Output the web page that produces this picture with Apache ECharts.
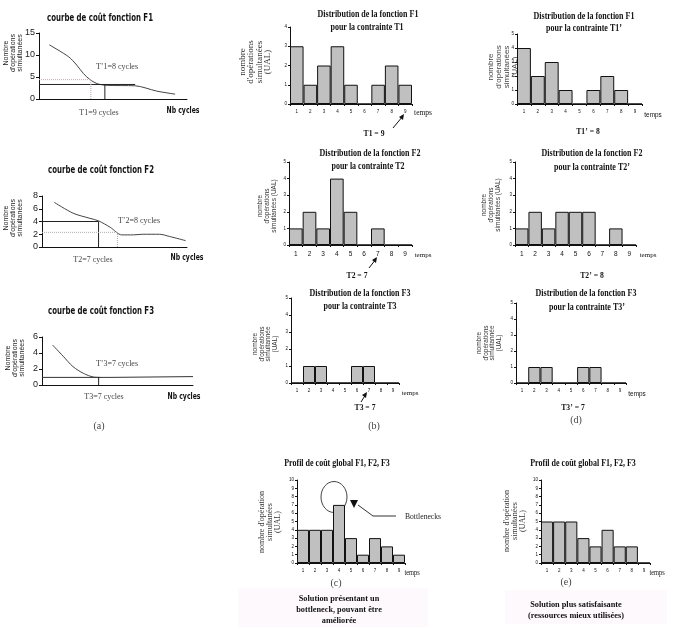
<!DOCTYPE html>
<html>
<head>
<meta charset="utf-8">
<script src="https://cdn.jsdelivr.net/npm/echarts@6/dist/echarts.min.js"></script>
<style>
  html, body { margin: 0; padding: 0; background: #fff; }
  #main { width: 678px; height: 627px; }
</style>
</head>
<body>
<div id="main"></div>
<script>
// courbes de coût (x en unités arbitraires 0..20, y = nombre d'opérations)
const coutF1 = [[1.4, 12.3], [4.0, 9.6], [5.1, 7.7], [6.0, 5.8], [6.9, 4.4], [8.0, 3.4], [9.2, 3.1], [13.0, 3.0], [15.9, 1.8], [18.4, 1.1]];
const coutF2 = [[1.7, 7.0], [4.3, 5.3], [6.6, 4.5], [7.8, 4.1], [9.4, 3.1], [11.0, 1.9], [12.6, 1.9], [13.9, 2.0], [16.2, 2.0], [17.6, 1.65], [19.8, 1.0]];
const coutF3 = [[1.4, 5.0], [2.8, 3.6], [4.1, 2.3], [5.5, 1.45], [6.8, 1.0], [7.7, 0.95]];

// repères T / T'
const f1TraitH = [[0, 3.3], [13, 3.3]];
const f1TraitV = [[8.9, 0], [8.9, 3.3]];
const f1PointH = [[0, 4.4], [7.0, 4.4]];
const f1PointV = [[7.0, 0], [7.0, 4.4]];
const f2TraitH = [[0, 4.0], [7.8, 4.0]];
const f2TraitV = [[7.8, 0], [7.8, 4.0]];
const f2PointH = [[0, 2.3], [10.4, 2.3]];
const f2PointV = [[10.4, 0], [10.4, 2.3]];
const f3TraitH = [[0, 0.95], [9.0, 0.95], [9.05, 1.05], [20, 1.05]];
const f3TraitV = [[7.5, 0], [7.5, 1.0]];

// distributions
const temps = ['1', '2', '3', '4', '5', '6', '7', '8', '9'];
const f1T1 = [3, 1, 2, 3, 1, 0, 1, 2, 1];
const f1T1p = [4, 2, 3, 1, 0, 1, 2, 1, 0];
const f2T2 = [1, 2, 1, 4, 2, 0, 1, 0, 0];
const f2T2p = [1, 2, 1, 2, 2, 2, 0, 1, 0];
const f3T3 = [0, 1, 1, 0, 0, 1, 1, 0, 0];
const f3T3p = [0, 1, 1, 0, 0, 1, 1, 0, 0];
const globalC = [4, 4, 4, 7, 3, 1, 3, 2, 1];
const globalE = [5, 5, 5, 3, 2, 4, 2, 2, 0];

const SANS = 'Liberation Sans, Arial, sans-serif';
const NARROW = 'Liberation Sans Narrow, DejaVu Sans Condensed, sans-serif';
const SERIF = 'Liberation Serif, Times New Roman, serif';

const chart = echarts.init(document.getElementById('main'));

// grilles : courbes (a) puis histogrammes
const grids = [
  { left: 39, top: 33, width: 148, height: 66 },
  { left: 42, top: 196, width: 145, height: 51 },
  { left: 42, top: 337, width: 151, height: 48 },
  { left: 290, top: 27, width: 122, height: 77 },
  { left: 517, top: 34, width: 125, height: 70 },
  { left: 289, top: 162, width: 123, height: 83 },
  { left: 515, top: 162, width: 121, height: 83 },
  { left: 291, top: 298, width: 108, height: 85 },
  { left: 516, top: 303, width: 110, height: 80 },
  { left: 297, top: 480, width: 108, height: 83 },
  { left: 541, top: 480, width: 109, height: 83 }
];

const xAxes = [];
const yAxes = [];
const series = [];

const lineMax = [15, 8, 6];
const lineStep = [5, 2, 2];
for (let i = 0; i < 3; i++) {
  xAxes.push({
    gridIndex: i, type: 'value', min: 0, max: 20,
    axisLine: { show: true, lineStyle: { color: '#111', width: 1 } },
    axisTick: { show: false }, axisLabel: { show: false }, splitLine: { show: false }
  });
  yAxes.push({
    gridIndex: i, type: 'value', min: 0, max: lineMax[i], interval: lineStep[i],
    axisLine: { show: true, lineStyle: { color: '#111', width: 1 } },
    axisTick: { show: true, length: 3, lineStyle: { color: '#111' } },
    axisLabel: { fontSize: 9, color: '#222', margin: 4, fontFamily: SANS },
    splitLine: { show: false }
  });
}

const barSets = [f1T1, f1T1p, f2T2, f2T2p, f3T3, f3T3p, globalC, globalE];
const barMax = [4, 5, 5, 5, 5, 5, 10, 10];
barSets.forEach(function (vals, k) {
  const g = k + 3;
  const big = (k === 2 || k === 3);
  xAxes.push({
    gridIndex: g, type: 'category', data: temps,
    axisLine: { show: true, lineStyle: { color: '#111', width: 1 } },
    axisTick: { show: true, length: 2, lineStyle: { color: '#111' } },
    axisLabel: { fontSize: big ? 6.5 : 4.5, color: '#111', margin: big ? 6 : 5, fontFamily: SANS }
  });
  yAxes.push({
    gridIndex: g, type: 'value', min: 0, max: barMax[k], interval: 1,
    axisLine: { show: true, lineStyle: { color: '#111', width: 1 } },
    axisTick: { show: true, length: 2, lineStyle: { color: '#111' } },
    axisLabel: { fontSize: 4.5, color: '#111', margin: 3, fontFamily: SANS },
    splitLine: { show: false }
  });
  series.push({
    type: 'bar', xAxisIndex: g, yAxisIndex: g, data: vals,
    barWidth: '100%', barCategoryGap: 0, silent: true,
    itemStyle: { color: '#c0c0c0', borderColor: '#111', borderWidth: 1 }
  });
});

function ligne(idx, pts, color, type, smooth) {
  series.push({
    type: 'line', xAxisIndex: idx, yAxisIndex: idx, data: pts,
    showSymbol: false, smooth: smooth || false, silent: true,
    lineStyle: { color: color, width: 1, type: type }
  });
}
ligne(0, coutF1, '#444', 'solid', 0.3);
ligne(0, f1TraitH, '#222', 'solid');
ligne(0, f1TraitV, '#222', 'solid');
ligne(0, f1PointH, '#c4a6b6', 'dotted');
ligne(0, f1PointV, '#c4a6b6', 'dotted');
ligne(1, coutF2, '#444', 'solid', 0.3);
ligne(1, f2TraitH, '#222', 'solid');
ligne(1, f2TraitV, '#222', 'solid');
ligne(1, f2PointH, '#aaa', 'dotted');
ligne(1, f2PointV, '#aaa', 'dotted');
ligne(2, coutF3, '#444', 'solid', 0.3);
ligne(2, f3TraitH, '#333', 'solid');
ligne(2, f3TraitV, '#222', 'solid');

// textes
function txt(s, x, y, o) {
  o = o || {};
  return {
    type: 'text', x: x, y: y, rotation: o.rot || 0, scaleX: o.sx || 1, silent: true,
    style: {
      text: s, x: 0, y: 0, align: 'center', verticalAlign: 'middle',
      fontSize: o.size || 9, fontFamily: o.font || SERIF, fontWeight: o.bold ? 'bold' : 'normal',
      fill: o.color || '#111', lineHeight: o.lh || undefined
    }
  };
}
const R = Math.PI / 2;
const titreA = { font: NARROW, bold: true, size: 10.5, sx: 0.74 };
const titreB = { font: SERIF, bold: true, size: 10, sx: 0.8 };
const cyc = { font: SERIF, size: 8, color: '#444' };
const nb = { font: NARROW, bold: true, size: 9, sx: 0.76 };
const ylA = { font: SANS, size: 7, rot: R, lh: 7, color: '#222' };
const lettre = { font: SERIF, size: 10, color: '#444' };

const graphics = [
  { type: 'rect', shape: { x: 238, y: 588, width: 190, height: 39 }, style: { fill: '#fef9fc' }, silent: true },
  { type: 'rect', shape: { x: 505, y: 590, width: 162, height: 34 }, style: { fill: '#fef9fc' }, silent: true },

  txt('courbe de coût fonction F1', 100, 18, titreA),
  txt('T’1=8 cycles', 117, 67, cyc),
  txt('T1=9 cycles', 99, 113, cyc),
  txt('Nb cycles', 183, 111, nb),
  txt('Nombre\nd\'opérations\nsimultanées', 13, 53, ylA),

  txt('courbe de coût fonction F2', 101, 170, titreA),
  txt('T’2=8 cycles', 139, 221, cyc),
  txt('T2=7 cycles', 93, 260, cyc),
  txt('Nb cycles', 187, 258, nb),
  txt('Nombre\nd\'opérations\nsimultanées', 13, 218, ylA),

  txt('courbe de coût fonction F3', 101, 311, titreA),
  txt('T’3=7 cycles', 117, 364, cyc),
  txt('T3=7 cycles', 104, 397, cyc),
  txt('Nb cycles', 184, 397, nb),
  txt('Nombre\nd\'opérations\nsimultanées', 15, 358, ylA),
  txt('(a)', 99, 426, lettre),

  txt('Distribution de la fonction F1', 368, 14, titreB),
  txt('pour la contrainte T1', 367, 27, titreB),
  txt('temps', 423, 113, { font: SERIF, size: 7.5 }),
  txt('T1 = 9', 374, 134, { font: SERIF, bold: true, size: 9, sx: 0.85 }),
  txt('nombre\nd\'opérations\nsimultanées\n(UAL)', 255, 62, { font: SERIF, size: 9, rot: R, lh: 8.5, color: '#333' }),

  txt('Distribution de la fonction F1', 584, 16, titreB),
  txt('pour la contrainte T1’', 584, 28, titreB),
  txt('temps', 653, 115, { font: SANS, size: 7.5, sx: 0.85 }),
  txt('T1’ = 8', 588, 132, { font: SERIF, bold: true, size: 9, sx: 0.85 }),
  txt('nombre\nd\'opérations\nsimultanées\n(UAL)', 503, 67, { font: SANS, size: 8, rot: R, lh: 8, color: '#444' }),

  txt('Distribution de la fonction F2', 370, 153, titreB),
  txt('pour la contrainte T2', 368, 166, titreB),
  txt('temps', 423, 255, { font: SERIF, size: 7 }),
  txt('T2 = 7', 357, 276, { font: SERIF, bold: true, size: 9, sx: 0.85 }),
  txt('nombre\nd\'opérations\nsimultanées (UAL)', 267, 206, { font: SANS, size: 6.5, rot: R, lh: 7, color: '#333' }),

  txt('Distribution de la fonction F2', 592, 153, titreB),
  txt('pour la contrainte T2’', 592, 167, titreB),
  txt('temps', 648, 255, { font: SERIF, size: 7 }),
  txt('T2’ = 8', 592, 276, { font: SERIF, bold: true, size: 9, sx: 0.85 }),
  txt('nombre\nd\'opérations\nsimultanées (UAL)', 491, 205, { font: SANS, size: 6.5, rot: R, lh: 7, color: '#333' }),

  txt('Distribution de la fonction F3', 360, 293, titreB),
  txt('pour la contrainte T3', 360, 306, titreB),
  txt('temps', 410, 393, { font: SERIF, size: 7 }),
  txt('T3 = 7', 365, 408, { font: SERIF, bold: true, size: 9, sx: 0.85 }),
  txt('nombre\nd\'opérations\nsimultannée\n(UAL)', 265, 344, { font: SANS, size: 6.5, rot: R, lh: 6.5, color: '#333' }),
  txt('(b)', 374, 426, lettre),

  txt('Distribution de la fonction F3', 586, 293, titreB),
  txt('pour la contrainte T3’', 587, 307, titreB),
  txt('temps', 637, 394, { font: SANS, size: 7.5, sx: 0.85 }),
  txt('T3’ = 7', 573, 408, { font: SERIF, bold: true, size: 9, sx: 0.85 }),
  txt('nombre\nd\'opérations\nsimultannée\n(UAL)', 489, 343, { font: SANS, size: 6.5, rot: R, lh: 6.5, color: '#333' }),
  txt('(d)', 576, 420, lettre),

  txt('Profil de coût global F1, F2, F3', 337, 463, titreB),
  txt('temps', 412, 573, { font: SERIF, size: 7.5, sx: 0.85 }),
  txt('(c)', 336, 583, lettre),
  txt('nombre d\'opération\nsimultanées\n(UAL)', 270, 522, { font: SERIF, size: 8, rot: R, lh: 8, color: '#333' }),
  txt('Bottlenecks', 423, 517, { font: SERIF, size: 9, sx: 0.85, color: '#222' }),
  txt('Solution présentant un', 339, 599, { font: SERIF, bold: true, size: 9, sx: 0.92 }),
  txt('bottleneck, pouvant être', 339, 610, { font: SERIF, bold: true, size: 9, sx: 0.92 }),
  txt('améliorée', 339, 621, { font: SERIF, bold: true, size: 9, sx: 0.92 }),

  txt('Profil de coût global F1, F2, F3', 583, 463, titreB),
  txt('temps', 657, 573, { font: SERIF, size: 7.5, sx: 0.85 }),
  txt('(e)', 566, 582, lettre),
  txt('nombre d\'opération\nsimultanées\n(UAL)', 515, 521, { font: SERIF, size: 8, rot: R, lh: 8, color: '#333' }),
  txt('Solution plus satisfaisante', 576, 605, { font: SERIF, bold: true, size: 9, sx: 0.92 }),
  txt('(ressources mieux utilisées)', 576, 616, { font: SERIF, bold: true, size: 9, sx: 0.92 }),

  // flèches vers T
  { type: 'line', shape: { x1: 393, y1: 128, x2: 403, y2: 116 }, style: { stroke: '#111', lineWidth: 1 }, silent: true },
  { type: 'polygon', shape: { points: [[404, 114], [399, 117], [403, 120]] }, style: { fill: '#111' }, silent: true },
  { type: 'line', shape: { x1: 369, y1: 268, x2: 376, y2: 259 }, style: { stroke: '#111', lineWidth: 1 }, silent: true },
  { type: 'polygon', shape: { points: [[377, 257], [372, 260], [376, 263]] }, style: { fill: '#111' }, silent: true },
  { type: 'line', shape: { x1: 361, y1: 402, x2: 366, y2: 394 }, style: { stroke: '#111', lineWidth: 1 }, silent: true },
  { type: 'polygon', shape: { points: [[367, 392], [362, 395], [366, 398]] }, style: { fill: '#111' }, silent: true },

  // bottleneck
  { type: 'ellipse', shape: { cx: 334, cy: 497, rx: 13, ry: 15.5 }, style: { fill: 'none', stroke: '#444', lineWidth: 1 }, silent: true },
  { type: 'polygon', shape: { points: [[350, 500], [358, 500], [354, 508]] }, style: { fill: '#111' }, silent: true },
  { type: 'polyline', shape: { points: [[358, 505], [373, 516], [396, 516]] }, style: { stroke: '#333', lineWidth: 1, fill: 'none' }, silent: true }
];

chart.setOption({
  animation: false,
  backgroundColor: '#fff',
  grid: grids,
  xAxis: xAxes,
  yAxis: yAxes,
  series: series,
  graphic: graphics
});
</script>
</body>
</html>
